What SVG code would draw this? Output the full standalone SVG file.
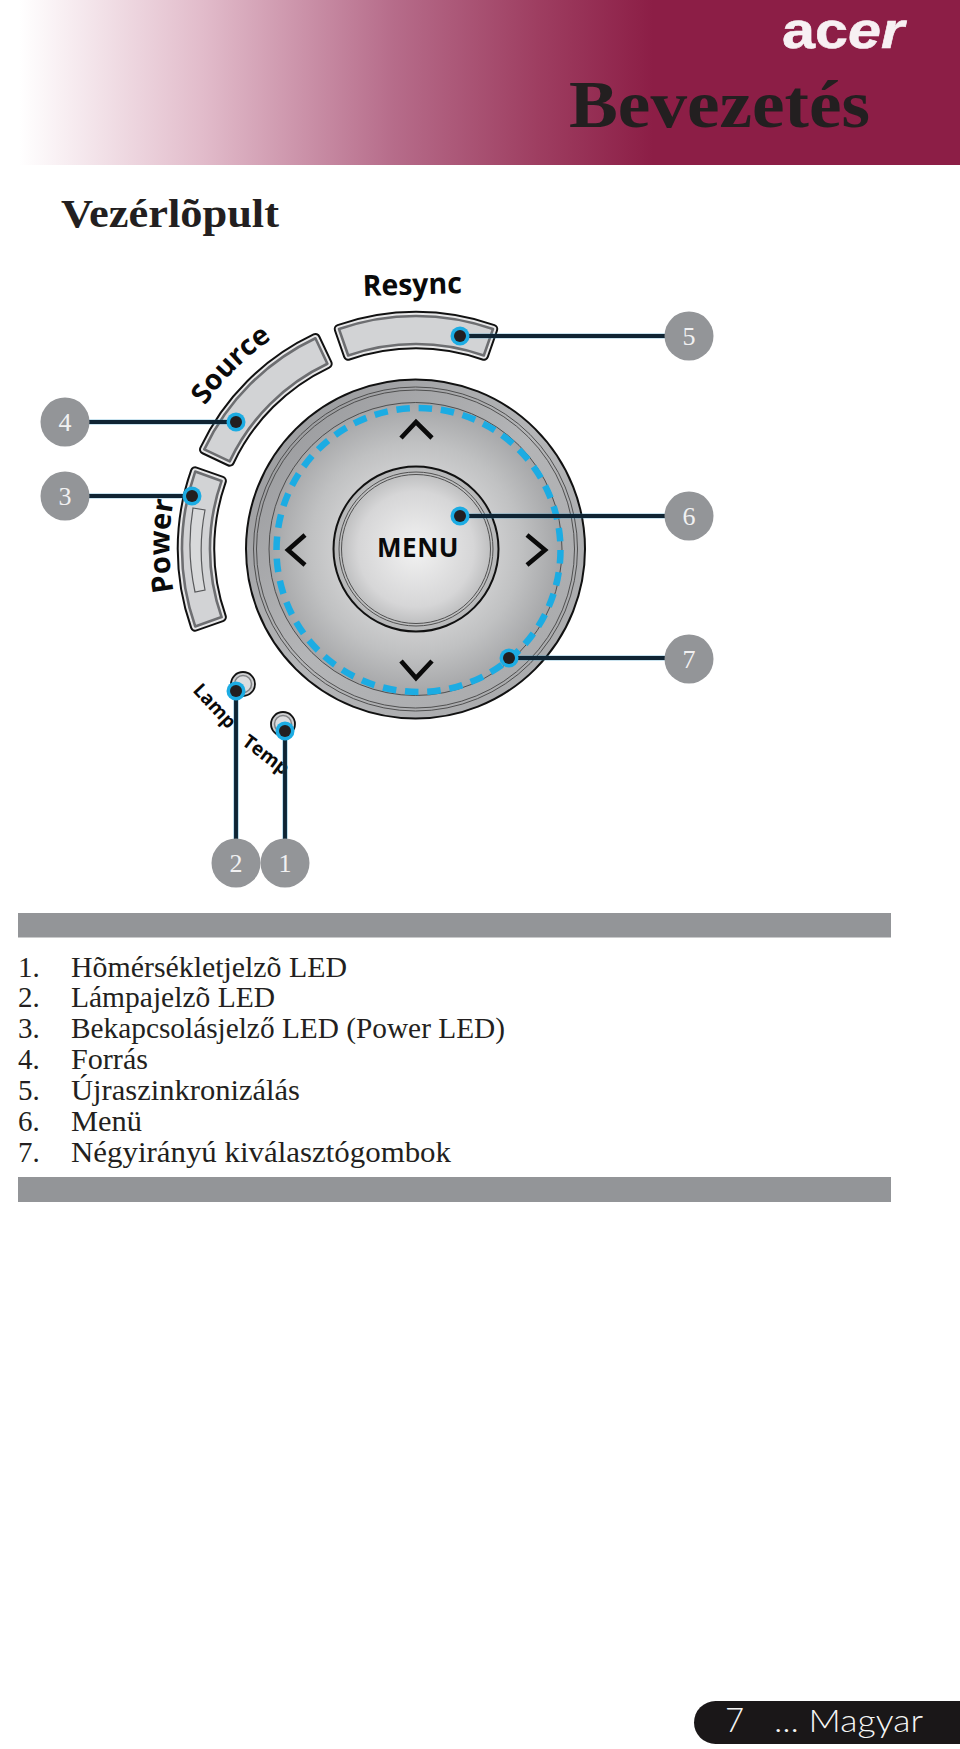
<svg xmlns="http://www.w3.org/2000/svg" width="960" height="1749" viewBox="0 0 960 1749">
<style>
.ser{font-family:"Liberation Serif","Times New Roman",serif}
.san{font-family:"Open Sans","Liberation Sans",sans-serif;font-weight:700;fill:#0a0a0a}
.item{font-size:29px;fill:#231f20}
.call{fill:#939598}
.num{font-size:26px;fill:#f1f1f2;text-anchor:middle}
.edge{stroke:#2a8fc0;stroke-width:4.6;fill:none}
.wire{stroke:#0f2433;stroke-width:3.8;fill:none}
.halo{fill:#1cace3}
.pin{fill:#231f20}
.bo{fill:none;stroke:#111;stroke-width:10.5;stroke-linejoin:round}
.bm{fill:none;stroke:#e8e8e9;stroke-width:6.5;stroke-linejoin:round}
.bi{fill:#d2d3d5;stroke:#6d6e71;stroke-width:2.6;stroke-linejoin:round}
.chev{fill:none;stroke:#0a0a0a;stroke-width:4.6}
.thin{fill:none;stroke:#444;stroke-width:0.9}
</style>
<defs>
<linearGradient id="band" x1="0" x2="960" y1="0" y2="0" gradientUnits="userSpaceOnUse">
<stop offset="0.02" stop-color="#ffffff"/>
<stop offset="0.21" stop-color="#e2bccb"/>
<stop offset="0.41" stop-color="#b66c8a"/>
<stop offset="0.56" stop-color="#9e3e61"/>
<stop offset="0.68" stop-color="#8c1e46"/>
<stop offset="1" stop-color="#8c1e46"/>
</linearGradient>
<linearGradient id="rim" x1="0" y1="0" x2="1" y2="1">
<stop offset="0" stop-color="#949598"/>
<stop offset="0.5" stop-color="#b4b5b7"/>
<stop offset="1" stop-color="#a6a7a9"/>
</linearGradient>
<radialGradient id="face" cx="0.5" cy="0.5" r="0.5">
<stop offset="0.4" stop-color="#d8d8d9"/>
<stop offset="0.72" stop-color="#c0c1c2"/>
<stop offset="1" stop-color="#a4a5a7"/>
</radialGradient>
<radialGradient id="btn" cx="0.5" cy="0.5" r="0.5">
<stop offset="0" stop-color="#f2f2f2"/>
<stop offset="0.7" stop-color="#d6d6d7"/>
<stop offset="1" stop-color="#b4b5b6"/>
</radialGradient>
<path id="pSource" d="M204.3 449.4A233 233 0 0 1 315.4 338.3L327.4 363.7A205 205 0 0 0 229.7 461.4Z"/>
<path id="pResync" d="M339 329.1A233 233 0 0 1 493 329.1L483.8 355.5A205 205 0 0 0 348.2 355.5Z"/>
<path id="pPower" d="M195.2 626.4A233 233 0 0 1 195.2 471.6L221.6 480.9A205 205 0 0 0 221.6 617.1Z"/>
<path id="tSource" d="M161 549A254 254 0 0 1 415 295"/>
<path id="tPower" d="M202.4 668.75A245.5 245.5 0 0 1 202.4 423.25"/>
</defs>

<g id="header">
<rect x="0" y="0" width="960" height="165" fill="url(#band)"/>
<text x="782" y="48" font-family="'Liberation Sans',Arial,sans-serif" font-weight="700" font-size="52" fill="#f7f0f3" stroke="#f7f0f3" stroke-width="0.6" textLength="122" lengthAdjust="spacingAndGlyphs">ac<tspan font-style="italic">er</tspan></text>
<text class="ser" x="569" y="127" font-size="68" font-weight="700" fill="#231f20" textLength="301" lengthAdjust="spacingAndGlyphs">Bevezetés</text>
</g>
<text class="ser" x="61" y="227" font-size="41" font-weight="700" fill="#231f20" textLength="218" lengthAdjust="spacingAndGlyphs">Vezérlõpult</text>

<g id="btn-source">
<use href="#pSource" class="bo"/><use href="#pSource" class="bm"/><use href="#pSource" class="bi"/>
<text class="san" font-size="28"><textPath href="#tSource" startOffset="50%" text-anchor="middle">Source</textPath></text>
</g>
<g id="btn-resync">
<use href="#pResync" class="bo"/><use href="#pResync" class="bm"/><use href="#pResync" class="bi"/>
<text class="san" font-size="29" text-anchor="middle" transform="translate(412.5 294.5) rotate(-1.7)" textLength="99" lengthAdjust="spacingAndGlyphs">Resync</text>
</g>
<g id="btn-power">
<use href="#pPower" class="bo"/><use href="#pPower" class="bm"/><use href="#pPower" class="bi"/>
<path d="M193 508L205 510A212 212 0 0 0 205 590L195 592A224 224 0 0 1 193 508Z" fill="#d8d9da" stroke="#58595b" stroke-width="1.2"/>
<text class="san" font-size="29"><textPath href="#tPower" startOffset="50%" text-anchor="middle">Power</textPath></text>
</g>

<g id="dial">
<circle cx="415.5" cy="549" r="169.5" fill="url(#rim)" stroke="#111" stroke-width="2"/>
<circle cx="415.5" cy="549" r="162" class="thin"/>
<circle cx="415.5" cy="549" r="159" class="thin"/>
<circle cx="415.5" cy="549" r="146.5" fill="url(#face)" stroke="#444" stroke-width="0.9"/>
<circle cx="418.5" cy="550" r="142" fill="none" stroke="#1cace3" stroke-width="6.5" stroke-dasharray="13.5 8.8"/>
<path class="chev" d="M401 438L416 422L432 438"/>
<path class="chev" d="M401 661L416 678L432 661"/>
<path class="chev" d="M305 535L288 550L305 565"/>
<path class="chev" d="M527 535L545 550L527 565"/>
</g>
<g id="btn-menu">
<circle cx="416" cy="549" r="82.5" fill="url(#btn)" stroke="#111" stroke-width="2"/>
<circle cx="416" cy="549" r="77" class="thin"/>
<circle cx="416" cy="549" r="74.5" class="thin"/>
<text class="san" x="418" y="556.5" font-size="26" text-anchor="middle" letter-spacing="0.5">MENU</text>
</g>

<g id="led-lamp">
<circle cx="243" cy="684" r="12" fill="#cfd0d2" stroke="#111" stroke-width="1.8"/>
<circle cx="243" cy="684" r="8.5" fill="#dcdddf" stroke="#808285" stroke-width="1.5"/>
<text class="san" font-size="19" transform="translate(192 691) rotate(47)">Lamp</text>
</g>
<g id="led-temp">
<circle cx="283" cy="724" r="12" fill="#cfd0d2" stroke="#111" stroke-width="1.8"/>
<circle cx="283" cy="724" r="8.5" fill="#dcdddf" stroke="#808285" stroke-width="1.5"/>
<text class="san" font-size="19" transform="translate(241 744) rotate(37)">Temp</text>
</g>

<g id="connectors">
<path class="edge" d="M285 731V840M236 691V840M65 496H192M65 422H236M689 336H460M689 516H460M689 658H509"/>
<path class="wire" d="M285 731V840M236 691V840M65 496H192M65 422H236M689 336H460M689 516H460M689 658H509"/>
<circle class="halo" cx="285" cy="731" r="9.5"/><circle class="pin" cx="285" cy="731" r="6"/>
<circle class="halo" cx="236" cy="691" r="9.5"/><circle class="pin" cx="236" cy="691" r="6"/>
<circle class="halo" cx="192" cy="496" r="9.5"/><circle class="pin" cx="192" cy="496" r="6"/>
<circle class="halo" cx="236" cy="422" r="9.5"/><circle class="pin" cx="236" cy="422" r="6"/>
<circle class="halo" cx="460" cy="336" r="9.5"/><circle class="pin" cx="460" cy="336" r="6"/>
<circle class="halo" cx="460" cy="516" r="9.5"/><circle class="pin" cx="460" cy="516" r="6"/>
<circle class="halo" cx="509" cy="658" r="9.5"/><circle class="pin" cx="509" cy="658" r="6"/>
</g>

<g id="callout-1"><circle class="call" cx="285" cy="863" r="24.5"/><text class="ser num" x="285" y="872">1</text></g>
<g id="callout-2"><circle class="call" cx="236" cy="863" r="24.5"/><text class="ser num" x="236" y="872">2</text></g>
<g id="callout-3"><circle class="call" cx="65" cy="496" r="24.5"/><text class="ser num" x="65" y="505">3</text></g>
<g id="callout-4"><circle class="call" cx="65" cy="422" r="24.5"/><text class="ser num" x="65" y="431">4</text></g>
<g id="callout-5"><circle class="call" cx="689" cy="336" r="24.5"/><text class="ser num" x="689" y="345">5</text></g>
<g id="callout-6"><circle class="call" cx="689" cy="516" r="24.5"/><text class="ser num" x="689" y="525">6</text></g>
<g id="callout-7"><circle class="call" cx="689" cy="659" r="24.5"/><text class="ser num" x="689" y="668">7</text></g>

<g id="legend">
<rect x="18" y="913" width="873" height="24.5" fill="#939598"/>
<rect x="18" y="1177" width="873" height="25" fill="#939598"/>
<g class="ser item">
<text x="18" y="977">1.</text><text x="71" y="977" textLength="276" lengthAdjust="spacingAndGlyphs">Hõmérsékletjelzõ LED</text>
<text x="18" y="1007">2.</text><text x="71" y="1007" textLength="204" lengthAdjust="spacingAndGlyphs">Lámpajelzõ LED</text>
<text x="18" y="1038">3.</text><text x="71" y="1038" textLength="434" lengthAdjust="spacingAndGlyphs">Bekapcsolásjelző LED (Power LED)</text>
<text x="18" y="1069">4.</text><text x="71" y="1069" textLength="77" lengthAdjust="spacingAndGlyphs">Forrás</text>
<text x="18" y="1100">5.</text><text x="71" y="1100" textLength="229" lengthAdjust="spacingAndGlyphs">Újraszinkronizálás</text>
<text x="18" y="1131">6.</text><text x="71" y="1131" textLength="71" lengthAdjust="spacingAndGlyphs">Menü</text>
<text x="18" y="1162">7.</text><text x="71" y="1162" textLength="380" lengthAdjust="spacingAndGlyphs">Négyirányú kiválasztógombok</text>
</g>
</g>

<g id="footer">
<path d="M960 1701H715.5A21.5 21.5 0 0 0 715.5 1744H960Z" fill="#1a1718"/>
<text x="725" y="1732" font-family="'Lato','Liberation Sans',sans-serif" font-weight="300" font-size="33" fill="#f5f5f5">7</text>
<text x="774" y="1732" font-family="'Lato','Liberation Sans',sans-serif" font-weight="300" font-size="31" fill="#f5f5f5" textLength="149" lengthAdjust="spacingAndGlyphs">... Magyar</text>
</g>
</svg>
